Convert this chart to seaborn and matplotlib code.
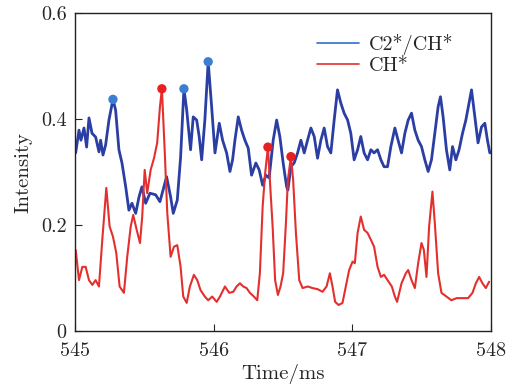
import matplotlib
matplotlib.use("Agg")
import matplotlib.pyplot as plt
import seaborn as sns
import pandas as pd

# C2*/CH* ratio (blue)
t_ratio = [545.005, 545.029, 545.043, 545.065, 545.084, 545.101, 545.123, 545.149, 545.173, 545.185,
           545.202, 545.221, 545.245, 545.274, 545.293, 545.317, 545.339, 545.366, 545.389, 545.411,
           545.438, 545.462, 545.483, 545.510, 545.541, 545.582, 545.613, 545.642, 545.661, 545.690,
           545.709, 545.738, 545.762, 545.786, 545.806, 545.834, 545.853, 545.878, 545.896, 545.914,
           545.937, 545.961, 545.986, 546.010, 546.041, 546.065, 546.094, 546.118, 546.137, 546.154,
           546.178, 546.202, 546.226, 546.250, 546.274, 546.305, 546.329, 546.354, 546.377, 546.401,
           546.430, 546.455, 546.478, 546.502, 546.527, 546.536, 546.558, 546.581, 546.606, 546.630,
           546.654, 546.678, 546.702, 546.726, 546.750, 546.774, 546.798, 546.822, 546.846, 546.870,
           546.894, 546.918, 546.942, 546.967, 546.990, 547.014, 547.039, 547.062, 547.086, 547.111,
           547.135, 547.158, 547.183, 547.207, 547.230, 547.255, 547.279, 547.308, 547.331, 547.356,
           547.380, 547.404, 547.428, 547.452, 547.476, 547.500, 547.524, 547.548, 547.572, 547.596,
           547.620, 547.637, 547.656, 547.680, 547.704, 547.724, 547.748, 547.771, 547.796, 547.820,
           547.843, 547.861, 547.885, 547.908, 547.933, 547.957, 547.976, 547.993]
ratio = [0.336, 0.379, 0.360, 0.383, 0.347, 0.402, 0.373, 0.366, 0.338, 0.360,
         0.332, 0.351, 0.398, 0.437, 0.417, 0.342, 0.317, 0.272, 0.228, 0.241,
         0.222, 0.253, 0.272, 0.241, 0.260, 0.257, 0.244, 0.272, 0.291, 0.253,
         0.222, 0.247, 0.328, 0.457, 0.417, 0.342, 0.404, 0.398, 0.367, 0.323,
         0.398, 0.508, 0.423, 0.336, 0.392, 0.360, 0.336, 0.301, 0.323, 0.360,
         0.404, 0.379, 0.360, 0.345, 0.294, 0.317, 0.304, 0.275, 0.294, 0.289,
         0.360, 0.398, 0.367, 0.317, 0.272, 0.266, 0.310, 0.317, 0.336, 0.360,
         0.336, 0.360, 0.383, 0.367, 0.326, 0.360, 0.383, 0.348, 0.336, 0.398,
         0.455, 0.430, 0.411, 0.398, 0.373, 0.323, 0.342, 0.367, 0.336, 0.323,
         0.342, 0.336, 0.342, 0.323, 0.310, 0.310, 0.348, 0.383, 0.360, 0.336,
         0.373, 0.398, 0.411, 0.379, 0.360, 0.348, 0.323, 0.301, 0.323, 0.373,
         0.423, 0.442, 0.404, 0.342, 0.304, 0.348, 0.323, 0.342, 0.373, 0.398,
         0.430, 0.455, 0.404, 0.355, 0.385, 0.392, 0.360, 0.336]
ratio_peaks = [13, 33, 41]

# CH* intensity (red)
t_ch = [545.005, 545.029, 545.053, 545.077, 545.101, 545.125, 545.149, 545.173, 545.197, 545.226,
        545.250, 545.274, 545.298, 545.322, 545.353, 545.377, 545.402, 545.420, 545.445, 545.469,
        545.485, 545.503, 545.521, 545.546, 545.570, 545.593, 545.613, 545.627, 545.647, 545.666,
        545.690, 545.714, 545.738, 545.762, 545.781, 545.806, 545.829, 545.858, 545.882, 545.906,
        545.937, 545.961, 545.990, 546.022, 546.046, 546.082, 546.113, 546.142, 546.166, 546.190,
        546.214, 546.238, 546.262, 546.291, 546.315, 546.334, 546.354, 546.372, 546.392, 546.406,
        546.426, 546.444, 546.464, 546.483, 546.502, 546.522, 546.536, 546.558, 546.574, 546.594,
        546.618, 546.642, 546.678, 546.714, 546.750, 546.786, 546.815, 546.839, 546.858, 546.877,
        546.902, 546.930, 546.954, 546.978, 547.003, 547.019, 547.039, 547.062, 547.086, 547.111,
        547.135, 547.158, 547.183, 547.207, 547.230, 547.255, 547.286, 547.308, 547.324, 547.356,
        547.387, 547.404, 547.428, 547.452, 547.476, 547.500, 547.517, 547.536, 547.555, 547.579,
        547.596, 547.620, 547.644, 547.680, 547.716, 547.753, 547.789, 547.836, 547.868, 547.892,
        547.916, 547.940, 547.964, 547.988]
ch = [0.153, 0.096, 0.121, 0.121, 0.096, 0.087, 0.096, 0.084, 0.172, 0.270,
      0.197, 0.178, 0.147, 0.084, 0.072, 0.140, 0.197, 0.219, 0.191, 0.166,
      0.216, 0.304, 0.260, 0.304, 0.326, 0.355, 0.423, 0.457, 0.342, 0.222,
      0.140, 0.159, 0.162, 0.121, 0.065, 0.053, 0.084, 0.106, 0.096, 0.077,
      0.065, 0.058, 0.065, 0.055, 0.065, 0.084, 0.072, 0.074, 0.084, 0.090,
      0.084, 0.081, 0.072, 0.065, 0.058, 0.109, 0.235, 0.298, 0.347, 0.285,
      0.197, 0.096, 0.068, 0.084, 0.109, 0.204, 0.285, 0.329, 0.285, 0.185,
      0.096, 0.081, 0.084, 0.081, 0.079, 0.074, 0.084, 0.109, 0.084, 0.055,
      0.049, 0.053, 0.084, 0.115, 0.131, 0.128, 0.185, 0.216, 0.191, 0.185,
      0.172, 0.159, 0.121, 0.102, 0.106, 0.096, 0.084, 0.065, 0.055, 0.090,
      0.109, 0.115, 0.096, 0.081, 0.128, 0.166, 0.153, 0.102, 0.197, 0.263,
      0.204, 0.109, 0.072, 0.065, 0.058, 0.062, 0.062, 0.062, 0.072, 0.090,
      0.102, 0.090, 0.081, 0.093]
ch_peaks = [27, 58, 67]

xticks = [545, 546, 547, 548]
yticks = [0, 0.2, 0.4, 0.6]
ytick_labels = ["0", "0.2", "0.4", "0.6"]

sns.set_style("ticks")
plt.rcParams["font.family"] = ["cmr10", "DejaVu Serif"]
plt.rcParams["axes.formatter.use_mathtext"] = True
plt.rcParams["mathtext.fontset"] = "cm"

df_ratio = pd.DataFrame({"t": t_ratio, "v": ratio})
df_ch = pd.DataFrame({"t": t_ch, "v": ch})

fig = plt.figure(figsize=(5.15, 3.87), dpi=100)
ax = fig.add_axes([0.1456, 0.1447, 0.8074, 0.8217])

sns.lineplot(data=df_ratio, x="t", y="v", ax=ax, color="#2b3ea3", lw=2.0, label="C2*/CH*")
sns.lineplot(data=df_ch, x="t", y="v", ax=ax, color="#e3302e", lw=1.5, label="CH*")

pk_r = df_ratio.iloc[ratio_peaks]
pk_c = df_ch.iloc[ch_peaks]
sns.scatterplot(data=pk_r, x="t", y="v", ax=ax, color="#3c7fd2", s=45, edgecolor="none", legend=False, zorder=5)
sns.scatterplot(data=pk_c, x="t", y="v", ax=ax, color="#e8201f", s=45, edgecolor="none", legend=False, zorder=5)

ax.set_xlim(545, 548)
ax.set_ylim(0, 0.6)
ax.set_xticks(xticks)
ax.set_yticks(yticks)
ax.set_yticklabels(ytick_labels)
ax.tick_params(direction="in", length=5, width=0.8, labelsize=14.5,
               top=False, right=False)
ax.tick_params(axis="x", pad=8)
ax.tick_params(axis="y", pad=6)
for s in ax.spines.values():
    s.set_linewidth(1.0)
    s.set_color("#222222")

ax.set_xlabel("Time/ms", fontsize=15, labelpad=3)
ax.set_ylabel("Intensity", fontsize=15, labelpad=6)

leg = ax.legend(loc="upper right", bbox_to_anchor=(0.955, 0.99), frameon=False,
                fontsize=14.5, handlelength=2.1, handletextpad=0.5, labelspacing=0.1)
leg.get_lines()[0].set_color("#2f6fcf")
leg.get_lines()[0].set_linewidth(1.2)
leg.get_lines()[1].set_linewidth(1.2)

fig.savefig("out.png", dpi=100)
